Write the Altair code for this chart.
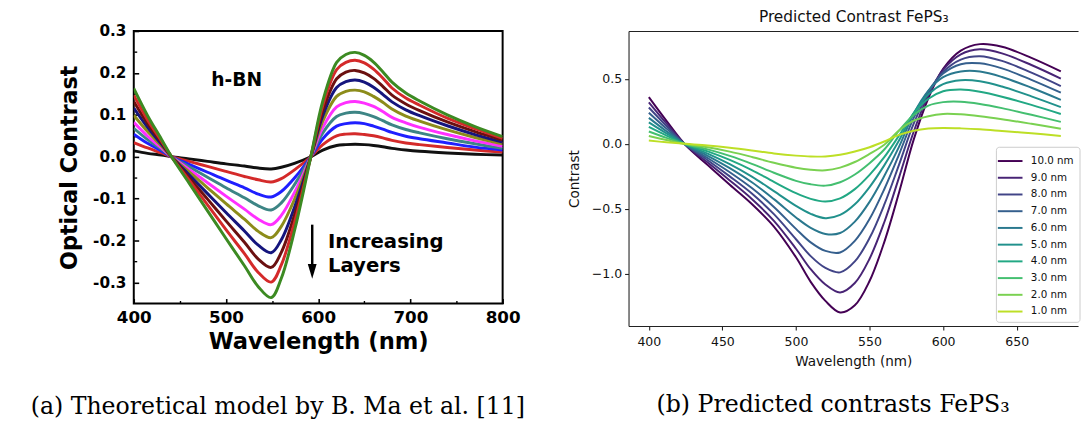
import altair as alt
import pandas as pd

# ---------------- (a) h-BN optical contrast ----------------
HBN_WL = [400, 415, 430, 441, 460, 480, 500, 520, 535, 549, 560, 575, 592,
          605, 620, 630, 640, 650, 660, 670, 680, 695, 710, 740, 770, 800]
HBN_BLACK   = [0.014, 0.008, 0.004, 0, -0.005, -0.011, -0.017, -0.022, -0.027, -0.029, -0.025, -0.015, 0,
               0.016, 0.027, 0.029, 0.030, 0.029, 0.027, 0.024, 0.020, 0.016, 0.013, 0.009, 0.006, 0.004]
HBN_RED1    = [0.034, 0.021, 0.009, 0, -0.011, -0.023, -0.035, -0.047, -0.055, -0.060, -0.052, -0.030, 0,
               0.029, 0.050, 0.054, 0.055, 0.053, 0.050, 0.045, 0.039, 0.033, 0.029, 0.022, 0.016, 0.011]
HBN_BLUE    = [0.054, 0.032, 0.014, 0, -0.018, -0.037, -0.056, -0.074, -0.089, -0.096, -0.083, -0.049, 0,
               0.043, 0.073, 0.079, 0.081, 0.079, 0.073, 0.066, 0.058, 0.049, 0.043, 0.033, 0.023, 0.016]
HBN_TEAL    = [0.068, 0.041, 0.018, 0, -0.024, -0.049, -0.074, -0.098, -0.117, -0.127, -0.110, -0.064, 0,
               0.057, 0.096, 0.104, 0.106, 0.103, 0.096, 0.086, 0.076, 0.065, 0.057, 0.043, 0.031, 0.020]
HBN_MAGENTA = [0.082, 0.049, 0.021, 0, -0.030, -0.062, -0.094, -0.125, -0.149, -0.162, -0.140, -0.082, 0,
               0.070, 0.119, 0.129, 0.132, 0.128, 0.120, 0.108, 0.094, 0.081, 0.070, 0.053, 0.038, 0.025]
HBN_OLIVE   = [0.099, 0.060, 0.026, 0, -0.036, -0.074, -0.112, -0.149, -0.178, -0.193, -0.166, -0.098, 0,
               0.085, 0.144, 0.156, 0.159, 0.155, 0.144, 0.130, 0.114, 0.097, 0.085, 0.064, 0.046, 0.031]
HBN_NAVY    = [0.116, 0.070, 0.030, 0, -0.043, -0.088, -0.133, -0.177, -0.211, -0.229, -0.198, -0.116, 0,
               0.098, 0.165, 0.179, 0.183, 0.178, 0.166, 0.149, 0.131, 0.112, 0.098, 0.074, 0.053, 0.035]
HBN_WINE    = [0.132, 0.079, 0.034, 0, -0.050, -0.101, -0.153, -0.204, -0.244, -0.264, -0.228, -0.134, 0,
               0.110, 0.186, 0.202, 0.206, 0.200, 0.187, 0.168, 0.147, 0.126, 0.110, 0.083, 0.060, 0.040]
HBN_RED2    = [0.147, 0.088, 0.038, 0, -0.056, -0.115, -0.174, -0.231, -0.276, -0.299, -0.258, -0.151, 0,
               0.123, 0.208, 0.225, 0.230, 0.224, 0.209, 0.188, 0.164, 0.140, 0.123, 0.092, 0.067, 0.044]
HBN_GREEN   = [0.163, 0.098, 0.042, 0, -0.063, -0.129, -0.195, -0.260, -0.310, -0.336, -0.290, -0.170, 0,
               0.133, 0.225, 0.244, 0.249, 0.242, 0.226, 0.203, 0.178, 0.152, 0.133, 0.100, 0.072, 0.048]
HBN_NAMES = ["c01", "c02", "c03", "c04", "c05", "c06", "c07", "c08", "c09", "c10"]
HBN_COLORS = ["#111111", "#d42a2a", "#1f1fff", "#3d8585", "#ff30ff", "#8c8c1a", "#15157d", "#6b1010", "#d42a2a", "#3c8a22"]
HBN_SERIES = [HBN_BLACK, HBN_RED1, HBN_BLUE, HBN_TEAL, HBN_MAGENTA, HBN_OLIVE, HBN_NAVY, HBN_WINE, HBN_RED2, HBN_GREEN]
HBN_X_MAJOR = [400, 500, 600, 700, 800]
HBN_X_MINOR = [450, 550, 650, 750]
HBN_Y_MAJOR = [-0.3, -0.2, -0.1, 0.0, 0.1, 0.2, 0.3]
HBN_Y_MINOR = [-0.25, -0.15, -0.05, 0.05, 0.15, 0.25]

# annotations of panel (a)
HBN_LABEL = ["h-BN"]
HBN_LABEL_WL = [511.5]
HBN_LABEL_V = [0.183]
LAYER_TEXT = ["Increasing", "Layers"]
LAYER_TEXT_WL = [610.5, 610.5]
LAYER_TEXT_V = [-0.217, -0.276]
ARROW_WL = [593.5]
ARROW_TOP = [-0.162]
ARROW_END = [-0.256]
ARROW_HEAD = [-0.2737]

# ---------------- (b) FePS3 predicted contrast ----------------
FEPS_WL = [400, 412, 425, 440, 455, 470, 485, 500, 510, 520, 530, 540, 550, 560, 570, 580, 590, 600, 612, 625, 640, 660, 680]
FEPS_10 = [0.36, 0.177, -0.01, -0.163, -0.315, -0.463, -0.637, -0.874, -1.063, -1.21, -1.299, -1.244, -1.057, -0.757, -0.377, 0.032, 0.353, 0.577, 0.718, 0.768, 0.748, 0.662, 0.558]
FEPS_9 = [0.32, 0.157, -0.009, -0.144, -0.282, -0.425, -0.593, -0.808, -0.966, -1.084, -1.145, -1.072, -0.885, -0.604, -0.26, 0.093, 0.377, 0.569, 0.689, 0.728, 0.697, 0.607, 0.502]
FEPS_8 = [0.28, 0.137, -0.008, -0.126, -0.251, -0.383, -0.542, -0.735, -0.865, -0.956, -0.99, -0.906, -0.726, -0.469, -0.162, 0.155, 0.391, 0.553, 0.649, 0.675, 0.639, 0.548, 0.445]
FEPS_7 = [0.24, 0.117, -0.007, -0.11, -0.219, -0.341, -0.486, -0.655, -0.759, -0.825, -0.837, -0.748, -0.58, -0.35, -0.083, 0.2, 0.407, 0.541, 0.613, 0.62, 0.581, 0.493, 0.394]
FEPS_6 = [0.2, 0.097, -0.006, -0.092, -0.187, -0.296, -0.426, -0.567, -0.647, -0.694, -0.687, -0.599, -0.447, -0.248, -0.023, 0.232, 0.41, 0.513, 0.557, 0.557, 0.515, 0.432, 0.339]
FEPS_5 = [0.165, 0.08, -0.005, -0.075, -0.157, -0.253, -0.364, -0.478, -0.539, -0.573, -0.548, -0.466, -0.333, -0.166, 0.025, 0.237, 0.382, 0.46, 0.49, 0.482, 0.441, 0.366, 0.283]
FEPS_4 = [0.13, 0.063, -0.004, -0.058, -0.124, -0.202, -0.293, -0.38, -0.424, -0.444, -0.42, -0.349, -0.239, -0.103, 0.063, 0.235, 0.347, 0.405, 0.418, 0.401, 0.363, 0.3, 0.23]
FEPS_3 = [0.095, 0.046, -0.003, -0.043, -0.093, -0.154, -0.223, -0.285, -0.312, -0.322, -0.296, -0.236, -0.149, -0.044, 0.101, 0.222, 0.294, 0.321, 0.324, 0.307, 0.275, 0.224, 0.169]
FEPS_2 = [0.06, 0.029, -0.002, -0.027, -0.06, -0.101, -0.146, -0.184, -0.2, -0.204, -0.183, -0.14, -0.078, -0.007, 0.102, 0.178, 0.213, 0.23, 0.227, 0.213, 0.19, 0.154, 0.116]
FEPS_1 = [0.025, 0.012, 0.0, -0.013, -0.03, -0.051, -0.074, -0.091, -0.098, -0.097, -0.084, -0.059, -0.026, 0.018, 0.069, 0.101, 0.118, 0.122, 0.119, 0.112, 0.099, 0.081, 0.061]
FEPS_NAMES = ["10.0 nm", "9.0 nm", "8.0 nm", "7.0 nm", "6.0 nm", "5.0 nm", "4.0 nm", "3.0 nm", "2.0 nm", "1.0 nm"]
FEPS_COLORS = ["#440154", "#482475", "#414487", "#355f8d", "#2a788e", "#21918c", "#22a884", "#44bf70", "#7ad151", "#bddf26"]
FEPS_SERIES = [FEPS_10, FEPS_9, FEPS_8, FEPS_7, FEPS_6, FEPS_5, FEPS_4, FEPS_3, FEPS_2, FEPS_1]
FEPS_X_TICKS = [400, 450, 500, 550, 600, 650]
FEPS_Y_TICKS = [-1.0, -0.5, 0.0, 0.5]

CAPTION_A = "(a) Theoretical model by B. Ma et al. [11]"
CAPTION_B = "(b) Predicted contrasts FePS\u2083"
TITLE_B = "Predicted Contrast FePS\u2083"

# ---------------- tables ----------------
left_rows = []
for i, (name, vals) in enumerate(zip(HBN_NAMES, HBN_SERIES)):
    for w, v in zip(HBN_WL, vals):
        left_rows.append({"wl": w, "v": v, "curve": name, "k": i})
left_df = pd.DataFrame(left_rows)

right_rows = []
for i, (name, vals) in enumerate(zip(FEPS_NAMES, FEPS_SERIES)):
    for w, v in zip(FEPS_WL, vals):
        right_rows.append({"wl": w, "v": v, "thick": name, "k": i})
right_df = pd.DataFrame(right_rows)

# ---------------- panel (a) ----------------
BOLD = "DejaVu Sans"
lx = alt.Scale(domain=[400, 800], nice=False, zero=False)
ly = alt.Scale(domain=[-0.35, 0.3], nice=False, zero=False)

a_lines = alt.Chart(left_df).mark_line(strokeWidth=3, interpolate="catmull-rom", clip=True).encode(
    x=alt.X("wl:Q", scale=lx, axis=alt.Axis(
        values=HBN_X_MAJOR, format="d", orient="bottom", offset=-5, tickSize=5, tickWidth=1.6,
        tickColor="black", domain=False, grid=False, labelFont=BOLD, labelFontWeight="bold",
        labelFontSize=17, labelColor="black", labelPadding=6, labelFlush=False,
        title="Wavelength (nm)", titleFont=BOLD, titleFontWeight="bold", titleFontSize=23,
        titleColor="black", titlePadding=6)),
    y=alt.Y("v:Q", scale=ly, axis=alt.Axis(
        values=HBN_Y_MAJOR, labelExpr="replace(format(datum.value, '.1f'), '\u2212', '-')",
        orient="left", offset=-5, tickSize=5, tickWidth=1.6, tickColor="black", domain=False,
        grid=False, labelFont=BOLD, labelFontWeight="bold", labelFontSize=15.5,
        labelColor="black", labelPadding=8, labelFlush=False,
        title="Optical Contrast", titleFont=BOLD, titleFontWeight="bold", titleFontSize=22.6,
        titleColor="black", titlePadding=11)),
    color=alt.Color("curve:N", scale=alt.Scale(domain=HBN_NAMES, range=HBN_COLORS), legend=None),
    detail="k:O",
)

a_minor_x = alt.Chart(left_df).mark_rule(opacity=0).encode(
    x=alt.X("wl:Q", scale=lx, axis=alt.Axis(
        values=HBN_X_MINOR, orient="bottom", offset=-3, tickSize=3, tickWidth=1.4,
        tickColor="black", domain=False, grid=False, labels=False, title="")),
)
a_minor_y = alt.Chart(left_df).mark_rule(opacity=0).encode(
    y=alt.Y("v:Q", scale=ly, axis=alt.Axis(
        values=HBN_Y_MINOR, orient="left", offset=-3, tickSize=3, tickWidth=1.4,
        tickColor="black", domain=False, grid=False, labels=False, title="")),
)

hbn_df = pd.DataFrame({"wl": HBN_LABEL_WL, "v": HBN_LABEL_V, "t": HBN_LABEL})
a_hbn = alt.Chart(hbn_df).mark_text(font=BOLD, fontWeight="bold", fontSize=19, align="center",
                                    baseline="middle", color="black").encode(
    x=alt.X("wl:Q", scale=lx, axis=None), y=alt.Y("v:Q", scale=ly, axis=None), text="t:N")

lay_df = pd.DataFrame({"wl": LAYER_TEXT_WL, "v": LAYER_TEXT_V, "t": LAYER_TEXT})
a_lay = alt.Chart(lay_df).mark_text(font=BOLD, fontWeight="bold", fontSize=20, align="left",
                                    baseline="alphabetic", color="black").encode(
    x=alt.X("wl:Q", scale=lx, axis=None), y=alt.Y("v:Q", scale=ly, axis=None), text="t:N")

arrow_df = pd.DataFrame({"wl": ARROW_WL, "v1": ARROW_TOP, "v2": ARROW_END, "vh": ARROW_HEAD})
a_shaft = alt.Chart(arrow_df).mark_rule(strokeWidth=2.5, color="black").encode(
    x=alt.X("wl:Q", scale=lx, axis=None), y=alt.Y("v1:Q", scale=ly, axis=None), y2="v2:Q")
a_head = alt.Chart(arrow_df).mark_point(shape="M-0.6,-1L0.6,-1L0,1Z", size=225, filled=True,
                                        color="black", opacity=1).encode(
    x=alt.X("wl:Q", scale=lx, axis=None), y=alt.Y("vh:Q", scale=ly, axis=None))

left = alt.layer(a_lines, a_minor_x, a_minor_y, a_hbn, a_lay, a_shaft, a_head).resolve_axis(
    x="independent", y="independent"
).properties(
    width=375, height=277,
    view=alt.ViewBackground(stroke="black", strokeWidth=2),
    title=alt.TitleParams(CAPTION_A, orient="bottom", anchor="middle", frame="group", dx=-41,
                          offset=42, font="DejaVu Serif", fontSize=24, fontWeight="normal",
                          color="black"),
)

# ---------------- panel (b) ----------------
REG = "DejaVu Sans"
rx = alt.Scale(domain=[386.2, 691.7], nice=False, zero=False)
ry = alt.Scale(domain=[-1.404, 0.869], nice=False, zero=False)

b_lines = alt.Chart(right_df).mark_line(strokeWidth=2, interpolate="catmull-rom", clip=True).encode(
    x=alt.X("wl:Q", scale=rx, axis=alt.Axis(
        values=FEPS_X_TICKS, format="d", orient="bottom", tickSize=4, tickWidth=1.1,
        tickColor="#222222", domain=True, domainColor="#222222", domainWidth=1.1, grid=False,
        labelFont=REG, labelFontSize=12.7, labelColor="#111111", labelPadding=6, labelFlush=False,
        title="Wavelength (nm)", titleFont=REG, titleFontWeight="normal", titleFontSize=13.8,
        titleColor="#111111", titlePadding=6)),
    y=alt.Y("v:Q", scale=ry, axis=alt.Axis(
        values=FEPS_Y_TICKS, labelExpr="replace(format(datum.value, '.1f'), '-', '\u2212')",
        orient="left", tickSize=4, tickWidth=1.1, tickColor="#222222", domain=True,
        domainColor="#222222", domainWidth=1.1, grid=False, labelFont=REG, labelFontSize=12.7,
        labelColor="#111111", labelPadding=3, labelFlush=False,
        title="Contrast", titleFont=REG, titleFontWeight="normal", titleFontSize=13.8,
        titleColor="#111111", titlePadding=10)),
    color=alt.Color("thick:N", scale=alt.Scale(domain=FEPS_NAMES, range=FEPS_COLORS),
                    legend=alt.Legend(
                        title=None, orient="none", legendX=373.5, legendY=117.7,
                        symbolType="M-1.5,0H1.5", symbolSize=279, symbolStrokeWidth=2,
                        labelFont=REG, labelFontSize=10.5, labelColor="#111111",
                        labelOffset=11.5, padding=5, rowPadding=2, fillColor="white",
                        strokeColor="#cccccc", cornerRadius=3)),
    detail="k:O",
)

b_top = alt.Chart(right_df).mark_rule(opacity=0).encode(
    x=alt.X("wl:Q", scale=rx, axis=alt.Axis(
        orient="top", ticks=False, labels=False, domain=True, domainColor="#222222",
        domainWidth=1.1, grid=False, title=TITLE_B, titleFont=REG, titleFontWeight="normal",
        titleFontSize=15.6, titleColor="#111111", titlePadding=6.3, titleX=228.5)),
)

right = alt.layer(b_lines, b_top).resolve_axis(x="independent").properties(
    width=457, height=300,
    view=alt.ViewBackground(stroke="transparent"),
    title=alt.TitleParams(CAPTION_B, orient="bottom", anchor="middle", frame="group", dx=-20.5,
                          offset=26, font="DejaVu Serif", fontSize=24, fontWeight="normal",
                          color="black"),
)

chart = alt.hconcat(left, right, spacing=41).resolve_scale(color="independent").properties(
    padding={"left": 30, "top": 6, "right": 0, "bottom": 0},
    background="white",
)

chart.save("out.html", embed_options={"renderer": "svg", "actions": False})
